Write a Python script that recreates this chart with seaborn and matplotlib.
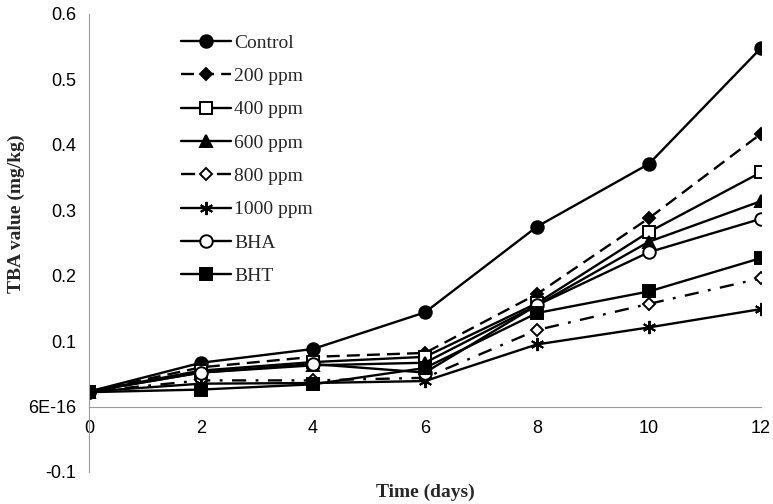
import pandas as pd
import matplotlib
matplotlib.use("Agg")
import matplotlib.pyplot as plt
import seaborn as sns

# values (TBA value, mg/kg)
days = [0, 2, 4, 6, 8, 10, 12]
control = [0.023, 0.067, 0.088, 0.144, 0.275, 0.371, 0.548]
ppm200 = [0.023, 0.060, 0.076, 0.082, 0.172, 0.288, 0.417]
ppm400 = [0.023, 0.055, 0.068, 0.076, 0.158, 0.267, 0.358]
ppm600 = [0.023, 0.052, 0.063, 0.067, 0.155, 0.252, 0.314]
ppm800 = [0.023, 0.040, 0.040, 0.044, 0.117, 0.157, 0.196]
ppm1000 = [0.023, 0.035, 0.036, 0.039, 0.095, 0.121, 0.149]
bha = [0.023, 0.052, 0.065, 0.052, 0.155, 0.236, 0.287]
bht = [0.022, 0.026, 0.034, 0.059, 0.143, 0.176, 0.227]

names = ["Control", "200 ppm", "400 ppm", "600 ppm", "800 ppm", "1000 ppm", "BHA", "BHT"]
series = [control, ppm200, ppm400, ppm600, ppm800, ppm1000, bha, bht]

yticks = [-0.1, 0, 0.1, 0.2, 0.3, 0.4, 0.5, 0.6]
ytick_labels = ["-0.1", "6E-16", "0.1", "0.2", "0.3", "0.4", "0.5", "0.6"]
xticks = [0, 2, 4, 6, 8, 10, 12]

# marker, size, face colour, dash pattern
styles = {
    "Control": ("o", 9, "black", None),
    "200 ppm": ("D", 6, "black", (5.5, 3)),
    "400 ppm": ("s", 8, "white", None),
    "600 ppm": ("^", 9, "black", None),
    "800 ppm": ("D", 6, "white", (6, 4, 1.2, 4)),
    "1000 ppm": ((6, 2, 0), 9.5, "black", None),
    "BHA": ("o", 9, "white", None),
    "BHT": ("s", 8, "black", None),
}

sns.set_style("white")
plt.rcParams["font.family"] = ["Liberation Sans", "DejaVu Sans"]

fig = plt.figure(figsize=(7.73, 5.04), dpi=100)
ax = fig.add_axes([89 / 773, 1 - 472 / 504, 672 / 773, 458 / 504])

for name, vals in zip(names, series):
    df = pd.DataFrame({"day": days, "tba": vals})
    mk, ms, fc, dash = styles[name]
    kw = dict(marker=mk, markersize=ms, markerfacecolor=fc,
              markeredgecolor="black", markeredgewidth=1.4)
    line = sns.lineplot(data=df, x="day", y="tba", ax=ax, color="black",
                        linewidth=1.7, label=name, **kw).lines[-1]
    if dash is not None:
        line.set_dashes(dash)

ax.set_xlim(0, 12)
ax.set_ylim(-0.1, 0.6)
ax.set_xticks(xticks)
ax.set_yticks(yticks)
ax.set_yticklabels(ytick_labels)

grey = "#9a9a9a"
for s in ["top", "right"]:
    ax.spines[s].set_visible(False)
ax.spines["bottom"].set_position(("data", 0))
ax.spines["bottom"].set_color(grey)
ax.spines["left"].set_color(grey)
ax.tick_params(axis="both", colors=grey, length=5, width=1, direction="out",
               labelsize=13, labelcolor="black")
ax.tick_params(axis="x", pad=5)
ax.tick_params(axis="y", pad=4)

ax.set_xlabel("Time (days)", family="Liberation Serif", fontweight="bold", fontsize=14)
ax.set_ylabel("TBA value (mg/kg)", family="Liberation Serif", fontweight="bold", fontsize=14)
ax.xaxis.set_label_coords(0.5, -0.025)
ax.yaxis.set_label_coords(-0.095, 0.565)

leg = ax.legend(loc="upper left", bbox_to_anchor=(181 / 773, 1 - 34 / 504),
                bbox_transform=fig.transFigure, frameon=False, borderpad=0,
                borderaxespad=0, handlelength=2.55, handletextpad=0.2,
                labelspacing=0.81, numpoints=1,
                prop={"family": "Liberation Serif", "size": 14})

fig.savefig("out.png", dpi=100)
